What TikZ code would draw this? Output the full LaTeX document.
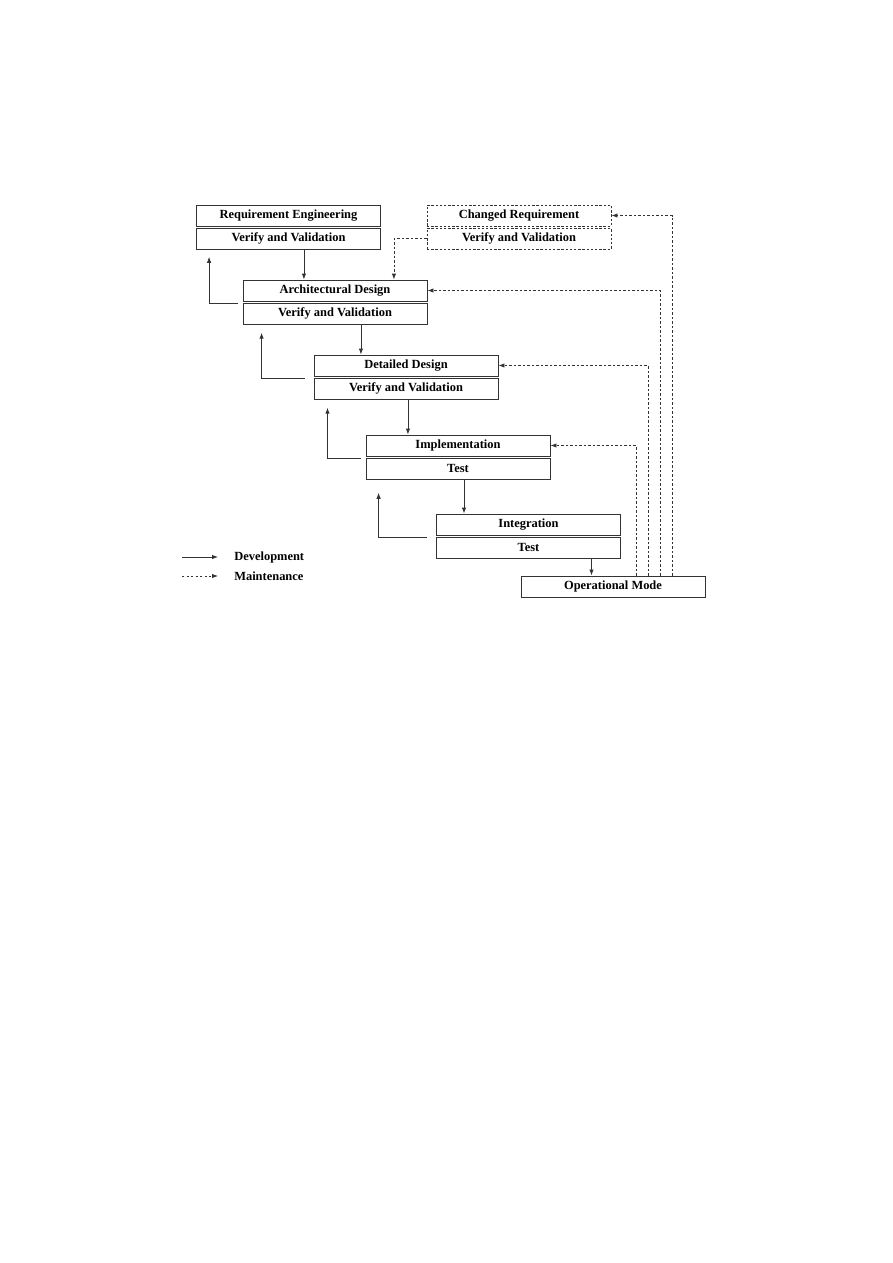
\documentclass[tikz,border=0pt]{standalone}
\usepackage{fontspec}
\setmainfont{Liberation Serif}
\usepackage{tikz}
\usetikzlibrary{arrows.meta,positioning}

\begin{document}
\begin{tikzpicture}[x=0.6667pt, y=-0.6667pt,
    row/.style={draw=black!80, line width=0.6pt, minimum width=122.7pt,
                minimum height=14pt, inner sep=0pt,
                font=\fontsize{8.3}{10}\selectfont\bfseries},
    changed/.style={row, dash pattern=on 1.6pt off 1.2pt},
    dev/.style={draw=black!80, line width=0.6pt, -{Latex[length=4pt,width=3pt]}},
    mnt/.style={dev, dash pattern=on 1.6pt off 1.4pt}]
  \useasboundingbox (0,0) rectangle (893,1263);
  % Phases
  \node[row] (re1) at (288.5,215.5) {Requirement Engineering};
  \node[row, below=0.9pt of re1] (re2) {Verify and Validation};
  \node[row] (arch1) at (335,290.5) {Architectural Design};
  \node[row, below=0.9pt of arch1] (arch2) {Verify and Validation};
  \node[row] (dd1) at (406,365.5) {Detailed Design};
  \node[row, below=0.9pt of dd1] (dd2) {Verify and Validation};
  \node[row] (impl1) at (458,445.5) {Implementation};
  \node[row, below=0.9pt of impl1] (impl2) {Test};
  \node[row] (integ1) at (528.5,524.5) {Integration};
  \node[row, below=0.9pt of integ1] (integ2) {Test};
  \node[row] (op) at (613,586.5) {Operational Mode};
  \node[changed] (cr1) at (519,215.5) {Changed Requirement};
  \node[changed, below=0.9pt of cr1] (cr2) {Verify and Validation};
  % Development flow
  \draw[dev] ([xshift=10.3pt]re2.south) -- ([xshift=10.3pt]re2.south |- arch1.north);
  \draw[dev] ([xshift=17.3pt]arch2.south) -- ([xshift=17.3pt]arch2.south |- dd1.north);
  \draw[dev] ([xshift=1.3pt]dd2.south) -- ([xshift=1.3pt]dd2.south |- impl1.north);
  \draw[dev] ([xshift=4pt]impl2.south) -- ([xshift=4pt]impl2.south |- integ1.north);
  \draw[dev] ([xshift=42pt]integ2.south) -- ([xshift=42pt]integ2.south |- op.north);
  % Feedback
  \draw[dev] ([xshift=-3.3pt,yshift=-0.6pt]arch2.north west) -| ([xshift=8.7pt,yshift=-4.7pt]re2.south west);
  \draw[dev] ([xshift=-6pt,yshift=-0.6pt]dd2.north west) -| ([xshift=12.7pt,yshift=-5.3pt]arch2.south west);
  \draw[dev] ([xshift=-3.3pt,yshift=-0.6pt]impl2.north west) -| ([xshift=9.3pt,yshift=-5.3pt]dd2.south west);
  \draw[dev] ([xshift=-6pt,yshift=-0.6pt]integ2.north west) -| ([xshift=8.7pt,yshift=-8.7pt]impl2.south west);
  % Maintenance
  \draw[mnt] ([xshift=15.3pt]op.north) |- (impl1.east);
  \draw[mnt] ([xshift=23.3pt]op.north) |- (dd1.east);
  \draw[mnt] ([xshift=31.3pt]op.north) |- (arch1.east);
  \draw[mnt] ([xshift=39.3pt]op.north) |- (cr1.east);
  \draw[mnt] (cr2.west) -| ([xshift=39.3pt]arch1.north);
  % Legend
  \coordinate (devA) at (182,557);
  \coordinate (devB) at (218,557);
  \coordinate (mntA) at (182,576);
  \coordinate (mntB) at (218,576);
  \draw[dev] (devA) -- (devB);
  \draw[mnt] (mntA) -- (mntB);
  \node[anchor=west, inner sep=0pt, font=\fontsize{8.3}{10}\selectfont\bfseries]
    (devtxt) at (234,557) {Development};
  \node[anchor=west, inner sep=0pt, font=\fontsize{8.3}{10}\selectfont\bfseries]
    (mnttxt) at (234,576) {Maintenance};
\end{tikzpicture}
\end{document}
